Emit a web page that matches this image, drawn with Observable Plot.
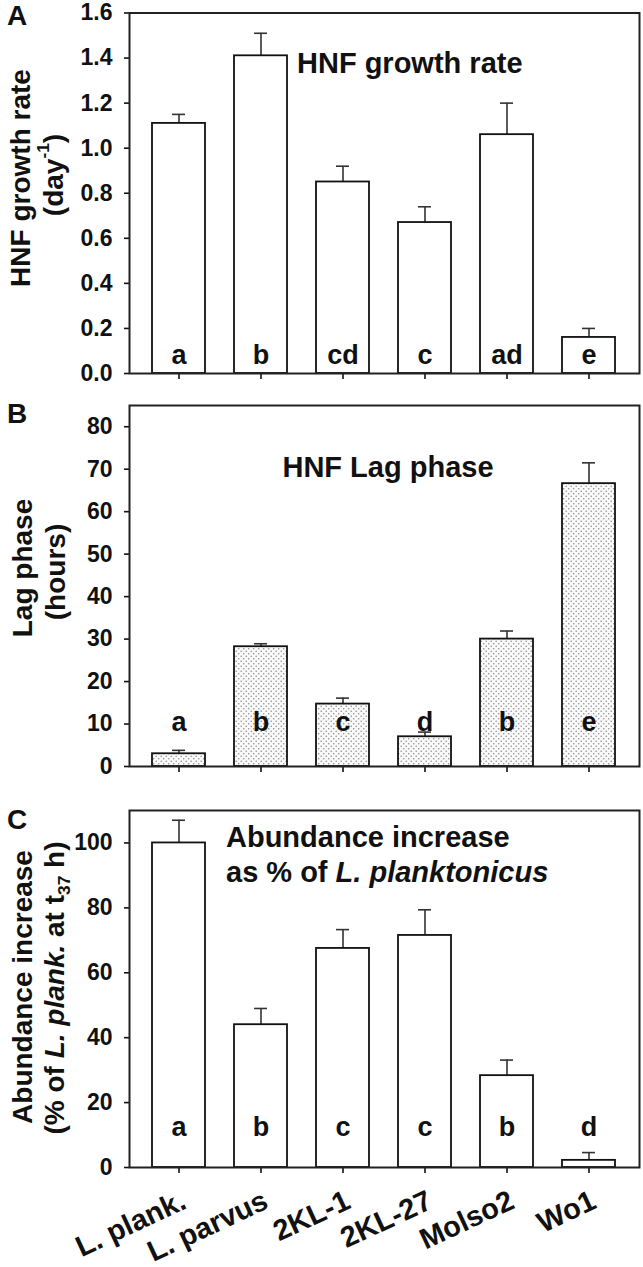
<!DOCTYPE html>
<html>
<head>
<meta charset="utf-8">
<script src="https://cdn.jsdelivr.net/npm/d3@7"></script>
<script src="https://cdn.jsdelivr.net/npm/@observablehq/plot@0.6"></script>
<style>
  html, body { margin: 0; padding: 0; background: white; }
  #wrap { position: relative; width: 643px; height: 1267px; overflow: hidden; font-family: "Liberation Sans", Arial, sans-serif; }
  .panel { position: absolute; left: 0; }
</style>
</head>
<body>
<svg width="0" height="0" style="position:absolute">
  <defs>
    <pattern id="dots" width="5" height="5" patternUnits="userSpaceOnUse">
      <rect width="5" height="5" fill="#fafafa"></rect>
      <circle cx="1.2" cy="1.2" r="0.8" fill="#8f8f8f"></circle>
      <circle cx="3.7" cy="3.7" r="0.8" fill="#8f8f8f"></circle>
    </pattern>
  </defs>
</svg>
<div id="wrap"></div>
<script>
const strains = ["L. plank.", "L. parvus", "2KL-1", "2KL-27", "Molso2", "Wo1"];

const growthRate = [1.11, 1.41, 0.85, 0.67, 1.06, 0.16];
const growthErr  = [0.04, 0.10, 0.07, 0.07, 0.14, 0.04];
const growthLetters = ["a", "b", "cd", "c", "ad", "e"];

const lagPhase = [3.0, 28.2, 14.7, 7.0, 30.0, 66.6];
const lagErr   = [0.8, 0.7, 1.4, 1.1, 1.9, 4.9];
const lagLetters = ["a", "b", "c", "d", "b", "e"];

const abundance = [100, 44, 67.5, 71.5, 28.3, 2.2];
const abundErr  = [7.0, 5.0, 5.8, 7.9, 4.8, 2.4];
const abundLetters = ["a", "b", "c", "c", "b", "d"];

const growthTicks = [0, 0.2, 0.4, 0.6, 0.8, 1.0, 1.2, 1.4, 1.6];
const lagTicks = [0, 10, 20, 30, 40, 50, 60, 70, 80];
const abundTicks = [0, 20, 40, 60, 80, 100];

const FONT = "'Liberation Sans', Arial, sans-serif";
const INK = "#111";

function rows(vals, errs, letters) {
  return strains.map((s, i) => ({name: s, v: vals[i], e: errs[i], letter: letters[i]}));
}

function panel({data, domain, ticks, fmt, fill, letterY, height, marginTop, marginBottom, labels}) {
  return Plot.plot({
    width: 643,
    height,
    marginLeft: 129,
    marginRight: 4,
    marginTop,
    marginBottom,
    style: {fontFamily: FONT, fontWeight: "bold", color: INK, background: "transparent", overflow: "visible"},
    x: {domain: strains, paddingInner: 0.35, paddingOuter: 0.27, axis: null},
    y: {domain, axis: null},
    marks: [
      Plot.ruleX(data, {x: "name", y1: "v", y2: d => d.v + d.e, stroke: "#333", strokeWidth: 1.6}),
      Plot.tickY(data, {x: "name", y: d => d.v + d.e, insetLeft: 20, insetRight: 20, stroke: "#333", strokeWidth: 1.6}),
      Plot.barY(data, {x: "name", y: "v", fill, stroke: INK, strokeWidth: 1.8}),
      Plot.text(data, {x: "name", y: () => letterY, text: "letter", fontSize: 27, fontWeight: "bold", fill: INK}),
      Plot.axisY({ticks, tickFormat: fmt, tickSize: 5, tickPadding: 12, fontSize: 23, fontWeight: "bold", label: null, stroke: INK, strokeWidth: 1.6}),
      Plot.axisX({tickSize: 6, tickFormat: () => "", label: null, stroke: INK, strokeWidth: 1.6}),
      labels
        ? Plot.text(data, {x: "name", y: () => 0, text: "name", dx: 9, dy: 40, rotate: -25, textAnchor: "end", lineAnchor: "bottom", fontSize: 29, fontWeight: "bold", fill: INK})
        : null,
      Plot.frame({stroke: "#222", strokeWidth: 2})
    ]
  });
}

function addText(svg, x, y, parts, opts = {}) {
  const t = d3.select(svg).append("text")
    .attr("font-family", FONT)
    .attr("font-weight", "bold")
    .attr("font-size", opts.size || 29)
    .attr("fill", INK)
    .attr("text-anchor", opts.anchor || "start")
    .attr("dominant-baseline", "central")
    .attr("transform", `translate(${x},${y})` + (opts.rotate ? ` rotate(${opts.rotate})` : ""));
  for (const p of parts) {
    const s = typeof p === "string" ? {t: p} : p;
    const ts = t.append("tspan").text(s.t);
    if (s.italic) ts.attr("font-style", "italic");
    if (s.sup) ts.attr("font-size", "0.62em").attr("baseline-shift", "super");
    if (s.sub) ts.attr("font-size", "0.62em").attr("baseline-shift", "sub");
  }
  return t;
}

const wrap = document.getElementById("wrap");

// Panel A
const A = panel({
  data: rows(growthRate, growthErr, growthLetters),
  domain: [0, 1.6], ticks: growthTicks, fmt: d3.format(".1f"), fill: "white",
  letterY: 0.08, height: 400, marginTop: 12.5, marginBottom: 27, labels: false
});
A.classList.add("panel"); A.style.top = "0px";
wrap.appendChild(A);
addText(A, 7, 15, ["A"], {size: 28});
addText(A, 20, 178, ["HNF growth rate"], {size: 28, anchor: "middle", rotate: -90});
addText(A, 53, 175, ["(day", {t: "-1", sup: true}, ")"], {size: 28, anchor: "middle", rotate: -90});
addText(A, 297, 63, ["HNF growth rate"], {size: 29});

// Panel B
const B = panel({
  data: rows(lagPhase, lagErr, lagLetters),
  domain: [0, 85], ticks: lagTicks, fmt: d3.format("d"), fill: "url(#dots)",
  letterY: 10.4, height: 400, marginTop: 10, marginBottom: 29, labels: false
});
B.classList.add("panel"); B.style.top = "395px";
wrap.appendChild(B);
addText(B, 7, 18, ["B"], {size: 28});
addText(B, 22, 173, ["Lag phase"], {size: 28, anchor: "middle", rotate: -90});
addText(B, 55, 177, ["(hours)"], {size: 28, anchor: "middle", rotate: -90});
addText(B, 388, 72, ["HNF Lag phase"], {size: 29, anchor: "middle"});

// Panel C
const C = panel({
  data: rows(abundance, abundErr, abundLetters),
  domain: [0, 110], ticks: abundTicks, fmt: d3.format("d"), fill: "white",
  letterY: 12.4, height: 467, marginTop: 10, marginBottom: 100, labels: true
});
C.classList.add("panel"); C.style.top = "800px";
wrap.appendChild(C);
addText(C, 7, 19, ["C"], {size: 28});
addText(C, 22, 187, ["Abundance increase"], {size: 28, anchor: "middle", rotate: -90});
addText(C, 54, 188, ["(% of ", {t: "L. plank.", italic: true}, " at t", {t: "37", sub: true}, " h)"], {size: 28, anchor: "middle", rotate: -90});
addText(C, 226, 37, ["Abundance increase"], {size: 29});
addText(C, 226, 72, ["as % of ", {t: "L. planktonicus", italic: true}], {size: 29});
</script>
</body>
</html>
